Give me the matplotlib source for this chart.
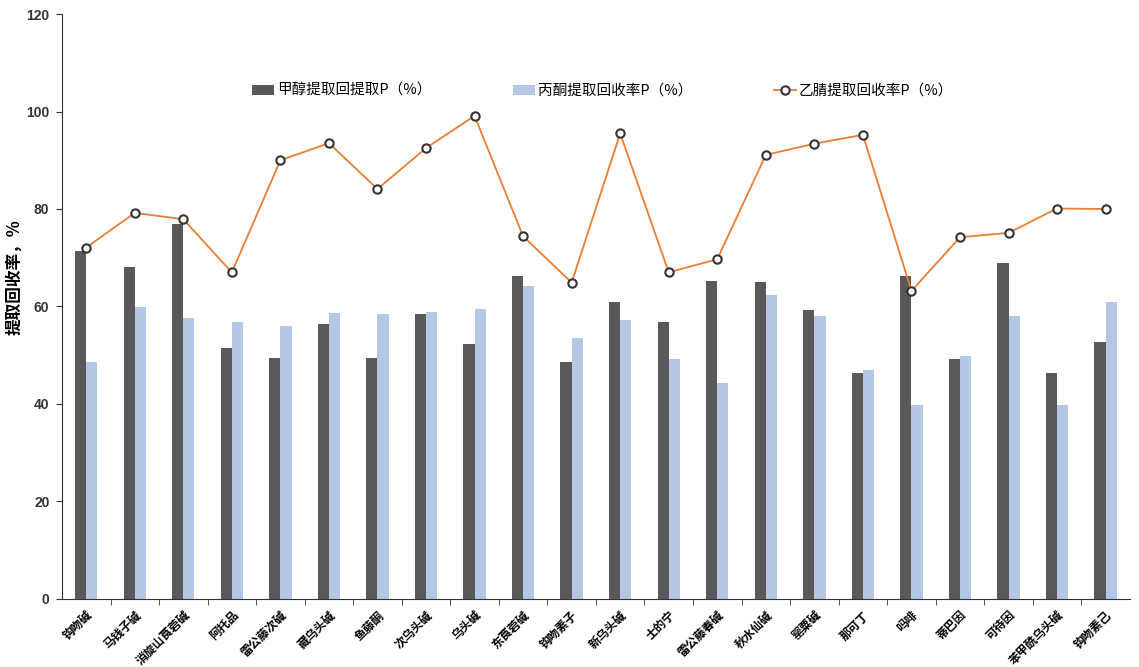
import matplotlib
matplotlib.use("Agg")
import matplotlib.pyplot as plt
import numpy as np
from matplotlib.ticker import MultipleLocator, FixedLocator

plt.rcParams['font.family'] = ['Noto Sans CJK SC', 'DejaVu Sans']

compounds = ['钩吻碱', '马钱子碱', '消旋山莨菪碱', '阿托品', '雷公藤次碱', '藏乌头碱', '鱼藤酮',
             '次乌头碱', '乌头碱', '东莨菪碱', '钩吻素子', '新乌头碱', '士的宁', '雷公藤春碱',
             '秋水仙碱', '罂粟碱', '那可丁', '吗啡', '蒂巴因', '可待因', '苯甲酰乌头碱', '钩吻素己']

methanol = [71.3, 68.0, 76.9, 51.5, 49.5, 56.5, 49.5, 58.5, 52.4, 66.2, 48.6,
            60.9, 56.8, 65.2, 65.0, 59.3, 46.4, 66.3, 49.2, 68.9, 46.4, 52.7]
acetone = [48.6, 59.8, 57.7, 56.9, 56.0, 58.6, 58.4, 58.9, 59.5, 64.3, 53.6,
           57.2, 49.2, 44.3, 62.3, 58.0, 47.0, 39.7, 49.9, 58.0, 39.8, 60.9]
acetonitrile = [72.1, 79.2, 77.9, 67.0, 90.0, 93.5, 84.1, 92.5, 99.1, 74.4, 64.9,
                95.5, 67.0, 69.7, 91.1, 93.4, 95.2, 63.2, 74.2, 75.1, 80.1, 80.0]

labels = ['甲醇提取回提取P（%）', '丙酮提取回收率P（%）', '乙腈提取回收率P（%）']

fig = plt.figure(figsize=(11.39, 6.67), dpi=100)
ax = fig.add_axes([0.0544, 0.102, 0.9376, 0.877])

x = np.arange(len(compounds))
w = 0.23
b1 = ax.bar(x - w / 2, methanol, w, color='#595959', label=labels[0])
b2 = ax.bar(x + w / 2, acetone, w, color='#B4C7E7', label=labels[1])
ln, = ax.plot(x, acetonitrile, color='#ED7D31', lw=1.3, marker='o', ms=6,
              mfc='white', mec='#333333', mew=1.5, label=labels[2])

ax.set_xlim(-0.5, len(compounds) - 0.5)
ax.set_ylim(0, 120)
ax.yaxis.set_major_locator(MultipleLocator(20))
for s in ['top', 'right']:
    ax.spines[s].set_visible(False)
ax.spines['left'].set_color('#333333')
ax.spines['bottom'].set_color('#333333')

ax.set_xticks(x)
ax.set_xticklabels(compounds, rotation=45, ha='right', rotation_mode='anchor',
                   fontsize=8.5, fontweight='bold')
ax.tick_params(axis='x', which='major', length=0, pad=7)
ax.xaxis.set_minor_locator(FixedLocator(x[:-1] + 0.5))
ax.tick_params(axis='x', which='minor', length=4, direction='out', color='#333333')
ax.tick_params(axis='y', length=4, color='#333333', pad=5)
for t in ax.get_yticklabels():
    t.set_fontfamily('Liberation Sans')
    t.set_fontweight('bold')
    t.set_fontsize(10)
    t.set_color('#333333')

ax.set_ylabel('提取回收率，%', fontsize=12, fontweight='bold')
ax.yaxis.set_label_coords(-0.036, 0.55)

fig.legend(handles=[b1, b2, ln], loc='center', bbox_to_anchor=(0.529, 0.864), ncol=3,
           frameon=False, fontsize=10.5, columnspacing=5.6, handlelength=1.5,
           handletextpad=0.2)

fig.savefig('out.png', dpi=100)
